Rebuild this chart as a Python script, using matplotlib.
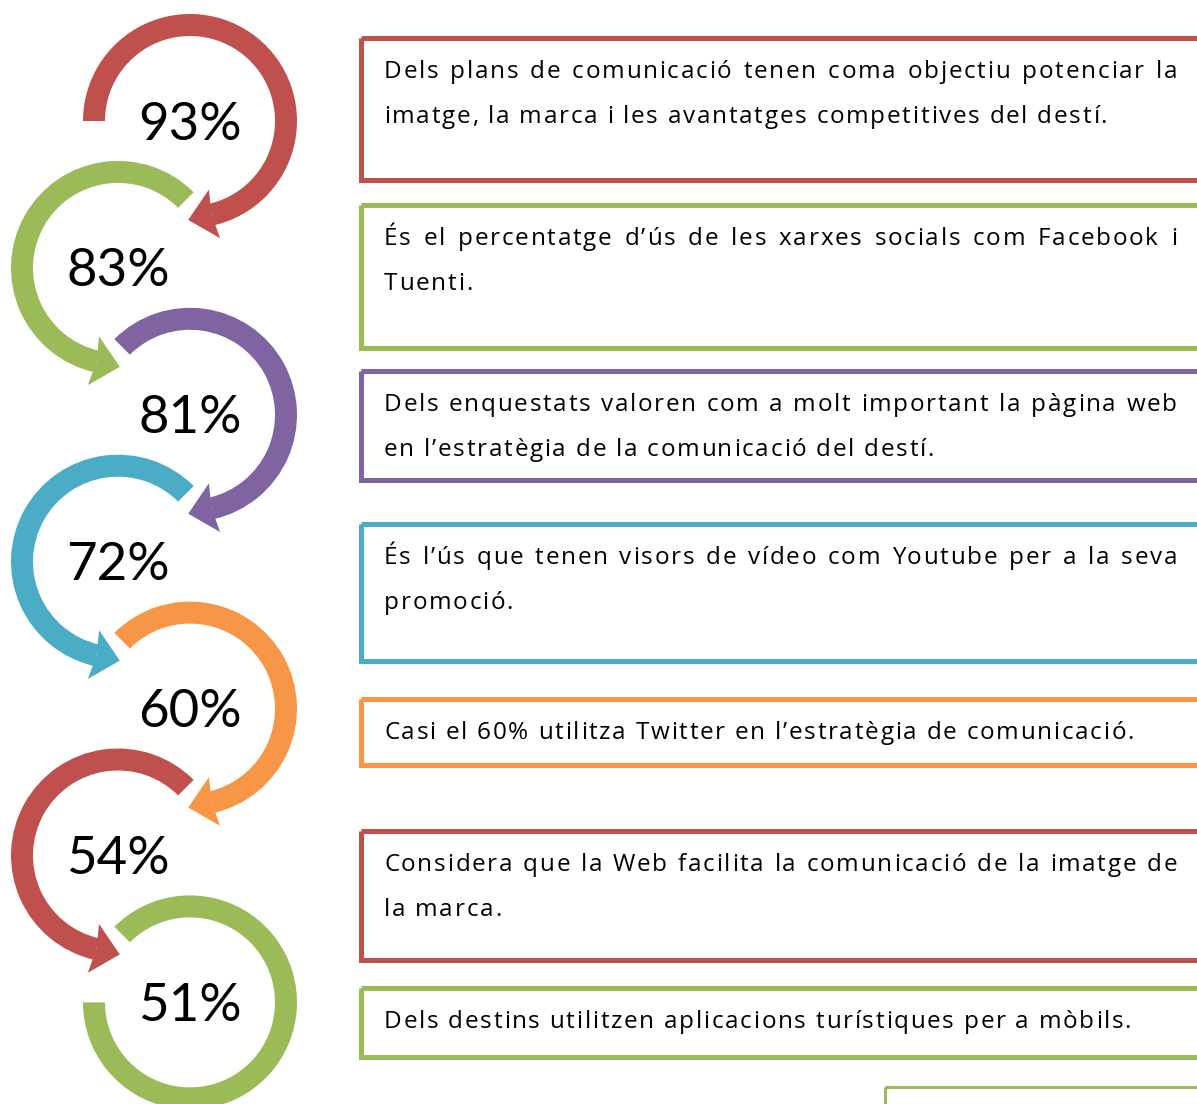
import numpy as np
import matplotlib
matplotlib.use("Agg")
import matplotlib.pyplot as plt
from matplotlib.patches import Wedge, Polygon, Rectangle
from matplotlib.font_manager import findfont, FontProperties
from matplotlib.ft2font import FT2Font

percents = [93, 83, 81, 72, 60, 54, 51]
colors = ["#C0504D", "#9BBB59", "#8064A2", "#4BACC6", "#F79646", "#C0504D", "#9BBB59"]
descriptions = [
    ["Dels plans de comunicació tenen coma objectiu potenciar la",
     "imatge, la marca i les avantatges competitives del destí."],
    ["És el percentatge d’ús de les xarxes socials com Facebook i",
     "Tuenti."],
    ["Dels enquestats valoren com a molt important la pàgina web",
     "en l’estratègia de la comunicació del destí."],
    ["És l’ús que tenen visors de vídeo com Youtube per a la seva",
     "promoció."],
    ["Casi el 60% utilitza Twitter en l’estratègia de comunicació."],
    ["Considera que la Web facilita la comunicació de la imatge de",
     "la marca."],
    ["Dels destins utilitzen aplicacions turístiques per a mòbils."],
]
box_tops = [38, 205, 371, 524, 699, 831, 988]
box_bottoms = [180, 348, 480, 661, 765, 960, 1057]

W, H = 1197, 1104
fig = plt.figure(figsize=(W / 100, H / 100), dpi=100)
ax = fig.add_axes([0, 0, 1, 1])
ax.set_xlim(0, W)
ax.set_ylim(H, 0)
ax.axis("off")

R, ring = 107, 22
rm = R - ring / 2
y0, step = 121, 146.9

for i, (p, c) in enumerate(zip(percents, colors)):
    cy = y0 + step * i
    right = i % 2 == 0
    cx = 190 if right else 118
    if right:
        start = 180 if i == 0 else 225
        end = 540 if i == len(percents) - 1 else 437
        ax.add_patch(Wedge((cx, cy), R, start, end, width=ring, color=c, lw=0))
        if i < len(percents) - 1:
            phi = np.radians(77)
            tang = np.array([-np.sin(phi), np.cos(phi)])
    else:
        ax.add_patch(Wedge((cx, cy), R, 103, 315, width=ring, color=c, lw=0))
        phi = np.radians(103)
        tang = np.array([np.sin(phi), -np.cos(phi)])
    if not (right and i == len(percents) - 1):
        rad = np.array([np.cos(phi), np.sin(phi)])
        base = np.array([cx, cy]) + rm * rad
        pts = [base + 25 * rad - 3 * tang, base + 24 * tang,
               base - 25 * rad - 3 * tang, base]
        ax.add_patch(Polygon(pts, closed=True, color=c, lw=0))
    ax.text(cx, cy + 4, f"{p}%", fontsize=38, family="Lato", ha="center",
            va="center", color="black")

# text boxes
for top, bot, c in zip(box_tops, box_bottoms, colors):
    ax.add_patch(Rectangle((361, top), 900, bot - top, fill=False,
                           edgecolor=c, lw=3.6))
ax.add_patch(Rectangle((885, 1087), 400, 100, fill=False,
                       edgecolor="#9BBB59", lw=2.2))

# body text: glyph advances + letter spacing to get the wide Calibri look
font = "Open Sans"
fs = 17.5
ft = FT2Font(findfont(FontProperties(family=font)))
ft.set_size(fs, 100)
_adv = {}


def adv(ch):
    if ch not in _adv:
        _adv[ch] = ft.load_char(ord(ch)).linearHoriAdvance / 65536
    return _adv[ch]


# spacing so the unjustified line of box 1 ends where it does (~723 px wide)
ref_line = descriptions[0][1]
track = (723 - sum(adv(ch) for ch in ref_line)) / (len(ref_line) - 1)


def word_width(w):
    return sum(adv(ch) for ch in w) + track * (len(w) - 1)


def draw_word(x, y, w):
    for ch in w:
        ax.text(x, y, ch, fontsize=fs, family=font, va="baseline", ha="left")
        x += adv(ch) + track


space = adv(" ") + 2 * track
x_left, x_right = 384, 1177
for lines, top in zip(descriptions, box_tops):
    for j, line in enumerate(lines):
        yb = top + 40 + 45 * j
        words = line.split(" ")
        widths = [word_width(w) for w in words]
        if j < len(lines) - 1:
            gap = (x_right - x_left - sum(widths)) / (len(words) - 1)
        else:
            gap = space
        x = x_left
        for w, wd in zip(words, widths):
            draw_word(x, yb, w)
            x += wd + gap

fig.savefig("out.png", dpi=100)
